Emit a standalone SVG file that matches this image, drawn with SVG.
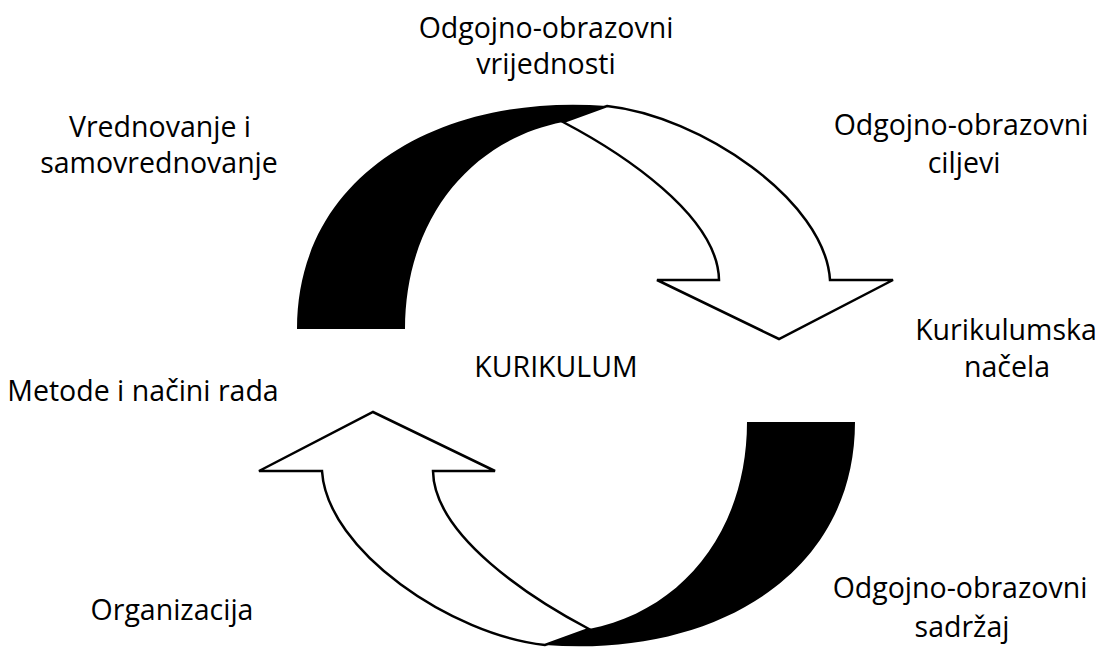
<svg xmlns="http://www.w3.org/2000/svg" xmlns:xlink="http://www.w3.org/1999/xlink" width="1104" height="647" viewBox="0 0 1104 647">
<style>
.lbl{font-family:"Open Sans","Noto Sans","Liberation Sans",sans-serif;font-size:28.5px;fill:#000;text-anchor:middle}
.band{fill:#000;stroke:none}
.arrow{fill:#fff;stroke:#000;stroke-width:2.5;stroke-linejoin:miter}
</style>
<defs>
<g id="cyc">
<path class="band" d="M297,329 C297,175 440,93 607,106 L563,122 C470,140 405,220 405,329 Z"/>
<path class="arrow" d="M607,106 C700,116 825,200 830,280 L893,280 L779,339 L657,280 L719,280 C718,215 620,152 563,122 Z"/>
</g>
</defs>
<rect width="1104" height="647" fill="#fff"/>
<g id="connectors">
<use id="arrow-top" xlink:href="#cyc"/>
<use id="arrow-bottom" xlink:href="#cyc" transform="rotate(180 576 375.5)"/>
</g>
<g id="n-vrijednosti"><text class="lbl" x="546" y="38">Odgojno-obrazovni</text><text class="lbl" x="546" y="74">vrijednosti</text></g>
<g id="n-vrednovanje"><text class="lbl" x="160" y="137">Vrednovanje i</text><text class="lbl" x="159" y="173">samovrednovanje</text></g>
<g id="n-ciljevi"><text class="lbl" x="961" y="135">Odgojno-obrazovni</text><text class="lbl" x="964" y="173">ciljevi</text></g>
<g id="n-nacela"><text class="lbl" x="1006" y="340">Kurikulumska</text><text class="lbl" x="1007" y="377">načela</text></g>
<g id="n-kurikulum"><text class="lbl" x="556" y="377">KURIKULUM</text></g>
<g id="n-metode"><text class="lbl" x="143" y="401">Metode i načini rada</text></g>
<g id="n-organizacija"><text class="lbl" x="172" y="620">Organizacija</text></g>
<g id="n-sadrzaj"><text class="lbl" x="960" y="598">Odgojno-obrazovni</text><text class="lbl" x="962" y="637">sadržaj</text></g>
</svg>
